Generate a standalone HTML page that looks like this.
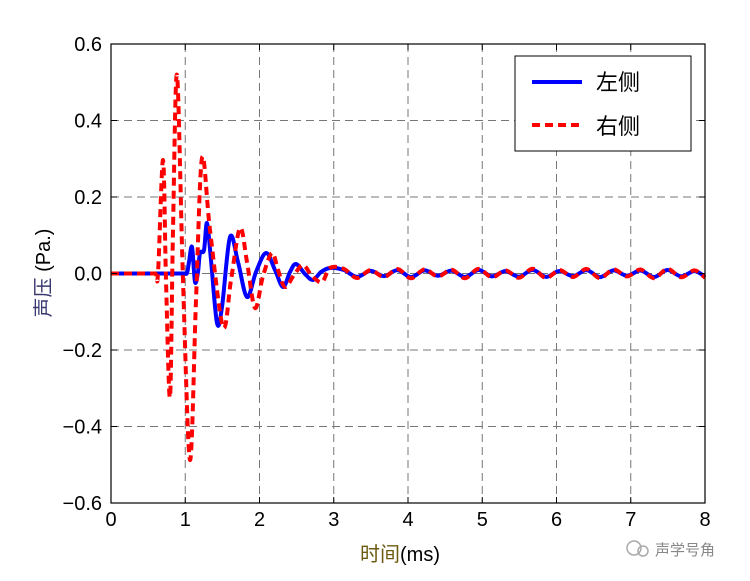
<!DOCTYPE html>
<html><head><meta charset="utf-8"><style>
body{margin:0;background:#fff;}
svg{display:block;font-family:"Liberation Sans","Noto Sans CJK SC",sans-serif;}
</style></head><body>
<svg id="s" width="750" height="581" viewBox="0 0 750 581">
<rect width="750" height="581" fill="#fff"/>
<g id="grid" stroke="#777" stroke-width="1" stroke-dasharray="8,5"></g>
<g id="curves"></g>
<rect x="111" y="44" width="594" height="459" fill="none" stroke="#000" stroke-width="1.2"/>
<g id="ticks" stroke="#000" stroke-width="1"></g>
<g id="labels" font-size="20" fill="#000"></g>
<text x="0" y="0" font-size="20" transform="translate(50,273) rotate(-90)" text-anchor="middle" fill="#000"><tspan fill="#3a3a70">声压</tspan> (Pa.)</text>
<text x="400" y="561" font-size="20" text-anchor="middle"><tspan fill="#6b5a10">时间</tspan>(ms)</text>
<rect x="515" y="56" width="176" height="95" fill="#fff" stroke="#000" stroke-width="1"/>
<line x1="532" y1="82" x2="582" y2="82" stroke="#0000ff" stroke-width="4"/>
<line x1="532" y1="125" x2="582" y2="125" stroke="#ff0000" stroke-width="4" stroke-dasharray="8,5"/>
<text x="596" y="90" font-size="22">左侧</text>
<text x="596" y="134" font-size="22">右侧</text>
<circle cx="634" cy="548" r="7" fill="none" stroke="#aaa" stroke-width="1.5"/>
<circle cx="643" cy="551" r="5" fill="none" stroke="#aaa" stroke-width="1.5"/>
<text x="655" y="555" font-size="15" fill="#888">声学号角</text>
</svg>
<script>
const ns="http://www.w3.org/2000/svg";
function el(p,t,a,txt){const e=document.createElementNS(ns,t);for(const k in a)e.setAttribute(k,a[k]);if(txt!==undefined)e.textContent=txt;document.getElementById(p).appendChild(e);return e;}
const X=t=>111+t*74.25, Y=v=>273.5-v*382.5;
for(let i=1;i<8;i++){el("grid","line",{x1:X(i),y1:44,x2:X(i),y2:503});}
for(let v=-0.4;v<0.45;v+=0.2){el("grid","line",{x1:111,y1:Y(v),x2:705,y2:Y(v)});}
for(let i=0;i<=8;i++){el("ticks","line",{x1:X(i),y1:503,x2:X(i),y2:497});el("ticks","line",{x1:X(i),y1:44,x2:X(i),y2:50});
 el("labels","text",{x:X(i),y:526,"text-anchor":"middle"},String(i));}
const vals=[0.6,0.4,0.2,0.0,-0.2,-0.4,-0.6];
vals.forEach(v=>{el("ticks","line",{x1:111,y1:Y(v),x2:117,y2:Y(v)});el("ticks","line",{x1:705,y1:Y(v),x2:699,y2:Y(v)});
 el("labels","text",{x:102,y:Y(v)+7,"text-anchor":"end"},(v<0?"\u2212":"")+Math.abs(v).toFixed(1));});
function path(pts){let d="M"+pts[0][0]+","+pts[0][1];
 for(let i=0;i<pts.length-1;i++){const p0=pts[Math.max(0,i-1)],p1=pts[i],p2=pts[i+1],p3=pts[Math.min(pts.length-1,i+2)];
 const c1=[p1[0]+(p2[0]-p0[0])/6,p1[1]+(p2[1]-p0[1])/6],c2=[p2[0]-(p3[0]-p1[0])/6,p2[1]-(p3[1]-p1[1])/6];
 d+=" C"+c1+" "+c2+" "+p2;}return d;}
function tail(pts,x0,ph,amp){let x=x0;let s=ph;while(x<705){x+=13.5;s=-s;pts.push([Math.min(x,705),273.5+s*amp*(0.7+0.5*Math.abs(Math.sin(x*0.05)))]);}return pts;}
let blue=[[111,273.5],[150,273.5],[180,273.5],[184,273.5],[187,273],[189,262],[192,247],[195,282],[198,272],[200,253],[204,250],[207,223],[211,260],[217,323],[222,307],[230,237],[238,262],[247,297],[256,272],[266,253],[275,270],[283,287],[290,272],[296,264],[305,274],[313,280],[321,272],[330,268]];
blue=tail(blue,330,1,3);
let red=[[111,273.5],[140,273.5],[155,273.5],[158,273],[163,160],[166,280],[170,397],[173,230],[177,75],[183,280],[190,460],[196,300],[202,158],[210,230],[223,327],[231,280],[240,228],[247,262],[255,308],[263,276],[272,253],[278,270],[285,287],[294,275],[303,265],[312,276],[322,282],[330,268]];
red=tail(red,330,1,4);
el("curves","path",{d:path(blue),fill:"none",stroke:"#0000ff","stroke-width":4,"stroke-linejoin":"round"});
el("curves","path",{d:path(red),fill:"none",stroke:"#ff0000","stroke-width":4,"stroke-dasharray":"8,5"});
</script>
</body></html>
